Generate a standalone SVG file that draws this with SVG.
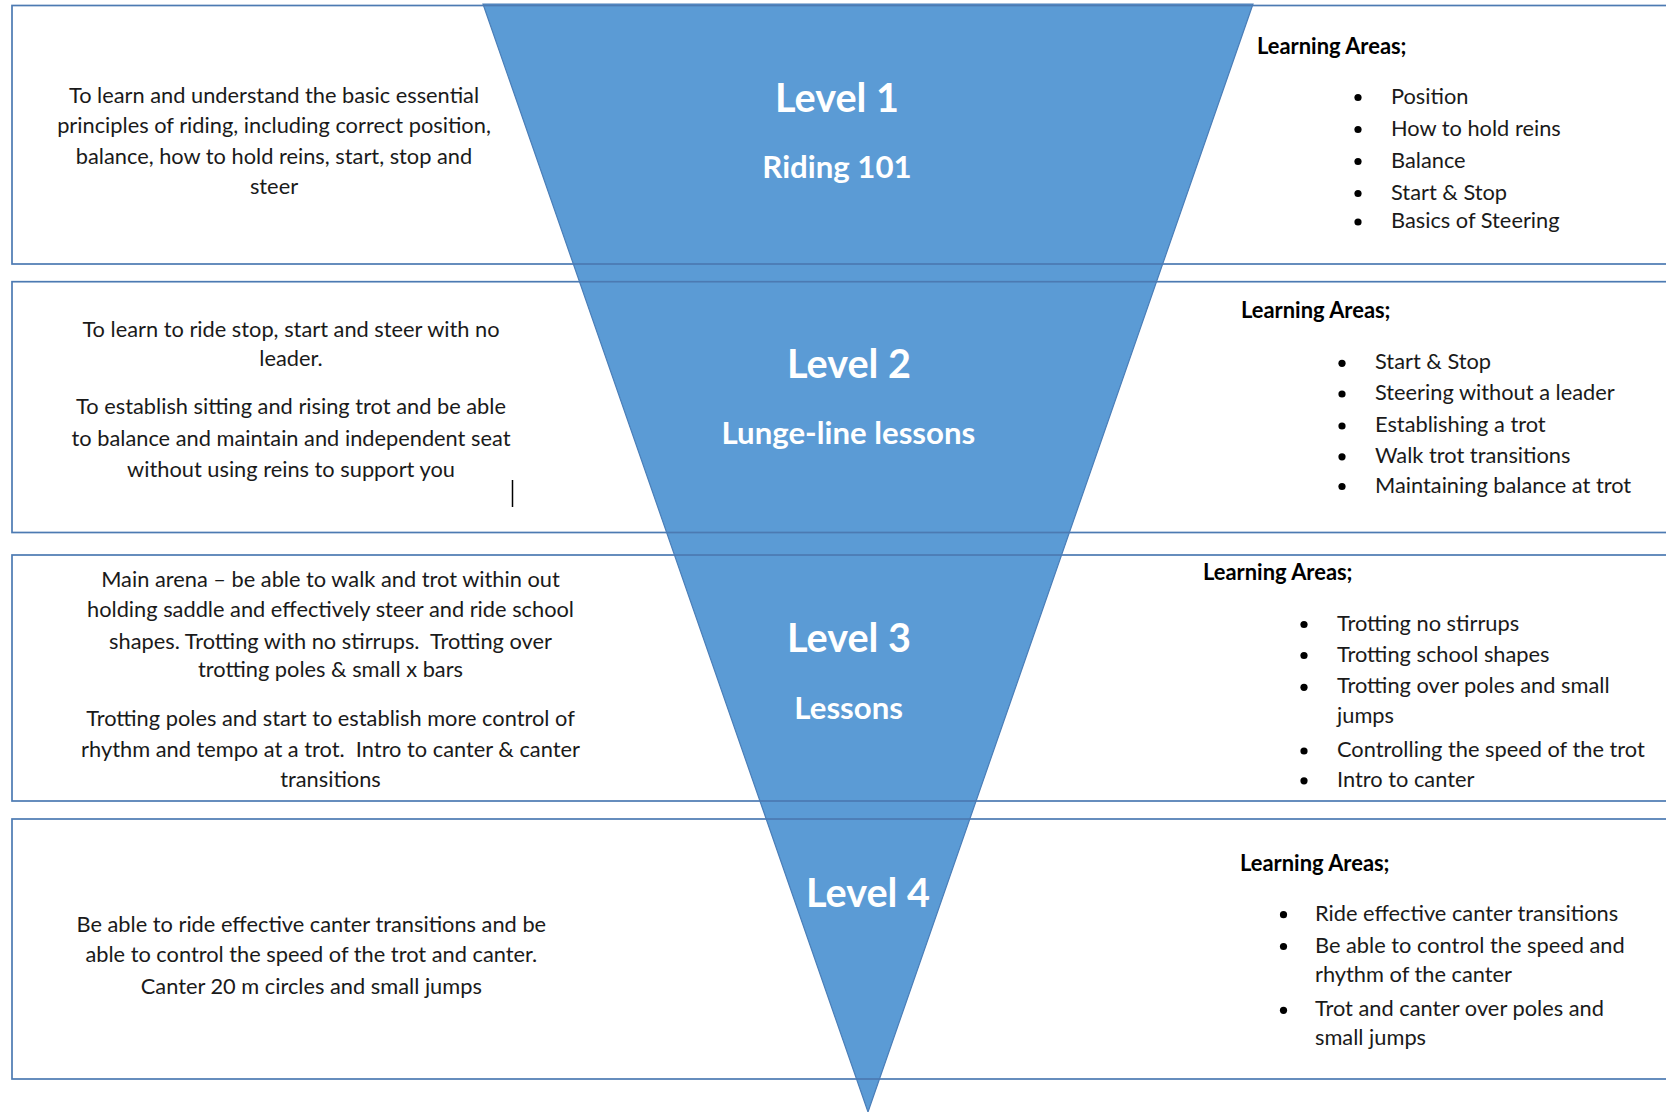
<svg xmlns="http://www.w3.org/2000/svg" width="1666" height="1112" viewBox="0 0 1666 1112">
<style>
.bg{fill:#ffffff}
.tri{fill:#5B9BD5;stroke:#4A7EB8;stroke-width:1.2}
.box{fill:none;stroke:#4C7AB2;stroke-width:1.7}
.t{font-family:Lato,"Liberation Sans",sans-serif;font-size:21.8px;fill:#1a1a1a;transform:translateY(1.5px)}
.c{text-anchor:middle}
.h{font-family:Lato,"Liberation Sans",sans-serif;font-size:21.9px;font-weight:bold;fill:#000000;transform:translateY(1.5px)}
.lv{font-family:Lato,"Liberation Sans",sans-serif;font-size:39.6px;font-weight:bold;fill:#ffffff;text-anchor:middle;transform:translateY(1px)}
.sub{font-family:Lato,"Liberation Sans",sans-serif;font-size:31.2px;font-weight:bold;fill:#ffffff;text-anchor:middle;transform:translateY(1px)}
.dot{fill:#000000}
</style>
<rect class="bg" x="0" y="0" width="1666" height="1112"/>
<g id="funnel">
<polygon class="tri" points="483,4 1253,4 868,1112"/>
</g>
<g id="connectors"></g>
<g id="level1">
<rect class="box" x="12" y="5.5" width="1700" height="258.5"/>
<text class="t c" x="274" y="101.5">To learn and understand the basic essential</text>
<text class="t c" x="274" y="131.5">principles of riding, including correct position,</text>
<text class="t c" x="274" y="162.5">balance, how to hold reins, start, stop and</text>
<text class="t c" x="274" y="192">steer</text>
<text class="lv" x="837" y="111.4">Level 1</text>
<text class="sub" x="837" y="177">Riding 101</text>
<text class="h" x="1257" y="52.5">Learning Areas;</text>
<circle class="dot" cx="1358" cy="97.5" r="3.6"/>
<circle class="dot" cx="1358" cy="129.5" r="3.6"/>
<circle class="dot" cx="1358" cy="161.5" r="3.6"/>
<circle class="dot" cx="1358" cy="193.5" r="3.6"/>
<circle class="dot" cx="1358" cy="222" r="3.6"/>
<text class="t" x="1391" y="102">Position</text>
<text class="t" x="1391" y="134">How to hold reins</text>
<text class="t" x="1391" y="166">Balance</text>
<text class="t" x="1391" y="198">Start &amp; Stop</text>
<text class="t" x="1391" y="226.5">Basics of Steering</text>
</g>
<g id="level2">
<rect class="box" x="12" y="281.7" width="1700" height="250.8"/>
<text class="t c" x="291" y="335">To learn to ride stop, start and steer with no</text>
<text class="t c" x="291" y="364">leader.</text>
<text class="t c" x="291" y="412.5">To establish sitting and rising trot and be able</text>
<text class="t c" x="291" y="444">to balance and maintain and independent seat</text>
<text class="t c" x="291" y="475">without using reins to support you</text>
<line x1="512.5" y1="480" x2="512.5" y2="507" stroke="#000000" stroke-width="1.5"/>
<text class="lv" x="849" y="377">Level 2</text>
<text class="sub" x="848.4" y="443">Lunge-line lessons</text>
<text class="h" x="1241" y="316.8">Learning Areas;</text>
<circle class="dot" cx="1342" cy="363.3" r="3.6"/>
<circle class="dot" cx="1342" cy="394" r="3.6"/>
<circle class="dot" cx="1342" cy="426" r="3.6"/>
<circle class="dot" cx="1342" cy="456.8" r="3.6"/>
<circle class="dot" cx="1342" cy="486.5" r="3.6"/>
<text class="t" x="1375" y="367.8">Start &amp; Stop</text>
<text class="t" x="1375" y="398.5">Steering without a leader</text>
<text class="t" x="1375" y="430.5">Establishing a trot</text>
<text class="t" x="1375" y="461.3">Walk trot transitions</text>
<text class="t" x="1375" y="491">Maintaining balance at trot</text>
</g>
<g id="level3">
<rect class="box" x="12" y="555" width="1700" height="246"/>
<text class="t c" x="330.5" y="585">Main arena – be able to walk and trot within out</text>
<text class="t c" x="330.5" y="615">holding saddle and effectively steer and ride school</text>
<text class="t c" x="330.5" y="647" xml:space="preserve">shapes. Trotting with no stirrups.  Trotting over</text>
<text class="t c" x="330.5" y="675.5">trotting poles &amp; small x bars</text>
<text class="t c" x="330.5" y="724.8">Trotting poles and start to establish more control of</text>
<text class="t c" x="330.5" y="755" xml:space="preserve">rhythm and tempo at a trot.  Intro to canter &amp; canter</text>
<text class="t c" x="330.5" y="785">transitions</text>
<text class="lv" x="849" y="650.5">Level 3</text>
<text class="sub" x="848.7" y="718">Lessons</text>
<text class="h" x="1203" y="578">Learning Areas;</text>
<circle class="dot" cx="1304" cy="624.5" r="3.6"/>
<circle class="dot" cx="1304" cy="655.5" r="3.6"/>
<circle class="dot" cx="1304" cy="687.3" r="3.6"/>
<circle class="dot" cx="1304" cy="751" r="3.6"/>
<circle class="dot" cx="1304" cy="780.8" r="3.6"/>
<text class="t" x="1337" y="629">Trotting no stirrups</text>
<text class="t" x="1337" y="660">Trotting school shapes</text>
<text class="t" x="1337" y="691.8">Trotting over poles and small</text>
<text class="t" x="1337" y="721.5">jumps</text>
<text class="t" x="1337" y="755.5">Controlling the speed of the trot</text>
<text class="t" x="1337" y="785.3">Intro to canter</text>
</g>
<g id="level4">
<rect class="box" x="12" y="819" width="1700" height="260"/>
<text class="t c" x="311.3" y="930">Be able to ride effective canter transitions and be</text>
<text class="t c" x="311.3" y="960.5">able to control the speed of the trot and canter.</text>
<text class="t c" x="311.3" y="992">Canter 20 m circles and small jumps</text>
<text class="lv" x="868" y="905.6">Level 4</text>
<text class="h" x="1240" y="869.3">Learning Areas;</text>
<circle class="dot" cx="1283.5" cy="914.7" r="3.6"/>
<circle class="dot" cx="1283.5" cy="946.5" r="3.6"/>
<circle class="dot" cx="1283.5" cy="1010.3" r="3.6"/>
<text class="t" x="1315" y="919.2">Ride effective canter transitions</text>
<text class="t" x="1315" y="951">Be able to control the speed and</text>
<text class="t" x="1315" y="980.8">rhythm of the canter</text>
<text class="t" x="1315" y="1014.8">Trot and canter over poles and</text>
<text class="t" x="1315" y="1043.5">small jumps</text>
</g>
</svg>
